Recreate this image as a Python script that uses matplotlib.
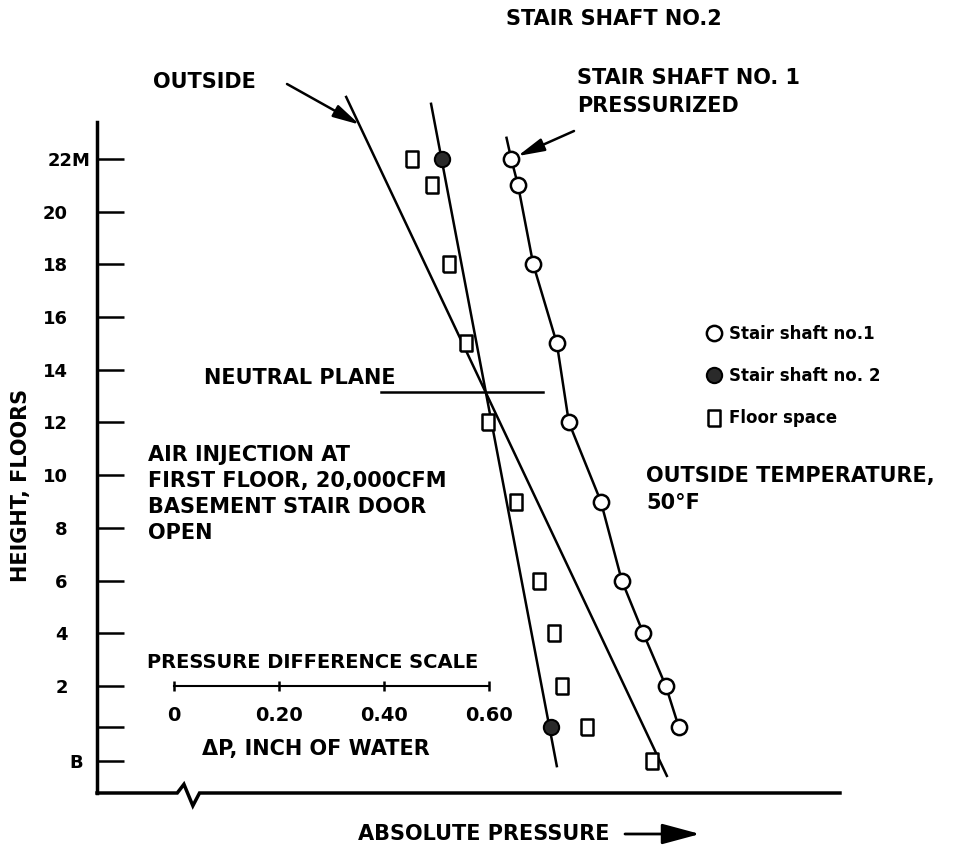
import matplotlib
matplotlib.use("Agg")
import matplotlib.pyplot as plt
import matplotlib.transforms as mtransforms
import numpy as np

W, H = 967, 858

plt.rcParams['font.family'] = ['DejaVu Sans']
plt.rcParams['font.weight'] = 'bold'

# floor numbers: 0 = basement (B), 1 = first floor
floor_ticks = [22, 20, 18, 16, 14, 12, 10, 8, 6, 4, 2, 1, 0]
floor_labels = ['22M', '20', '18', '16', '14', '12', '10', '8', '6', '4', '2', '', 'B']

# pressures read on the pressure difference scale (inch of water)
shaft1_floors = [22, 21, 18, 15, 12, 9, 6, 4, 2, 1]
shaft1_dp = [0.643, 0.656, 0.685, 0.730, 0.753, 0.814, 0.854, 0.895, 0.938, 0.963]

shaft2_floors = [22, 1]
shaft2_dp = [0.510, 0.718]

space_floors = [22, 21, 18, 15, 12, 9, 6, 4, 2, 1, 0]
space_dp = [0.453, 0.492, 0.525, 0.556, 0.598, 0.653, 0.696, 0.725, 0.739, 0.787, 0.911]

# straight lines as drawn (end points)
outside_floors = [24.35, -0.58]
outside_dp = [0.328, 0.940]
shaft2_fit_floors = [24.09, -0.21]
shaft2_fit_dp = [0.490, 0.730]
shaft1_top_floor = 22.8
shaft1_top_dp = 0.634

neutral_floor = 13.15
neutral_dp = [0.394, 0.704]

scale_ticks = [0, 0.2, 0.4, 0.6]
scale_labels = ['0', '0.20', '0.40', '0.60']

# the first floor and the basement are not spaced like the upper floors
floor_knots = [-20, 0, 1, 2, 60]
level_knots = [-20.83, -0.83, 0.43, 2, 60]


def to_level(f):
    return np.interp(f, floor_knots, level_knots)


def to_floor(v):
    return np.interp(v, level_knots, floor_knots)


def figtext(x, y, s, **kw):
    # x, y in pixels from the top left corner
    fig.text(x / W, 1 - y / H, s, **kw)


fig = plt.figure(figsize=(W / 100, H / 100), dpi=100)
ax = fig.add_axes([97 / W, 1 - 793 / H, (840 - 97) / W, (793 - 122) / H])
ax.set_yscale('function', functions=(to_level, to_floor))
ax.set_xlim(-0.1475, 1.2704)
ax.set_ylim(-1.23, 23.4)

for s in ['top', 'right', 'bottom']:
    ax.spines[s].set_visible(False)
ax.spines['left'].set_linewidth(2.5)
ax.set_xticks([])
ax.set_yticks(floor_ticks, floor_labels)
ax.tick_params(axis='y', direction='in', length=19.5, width=1.8, pad=21, labelsize=13)

# '22M' and 'B' sit further right than the other floor numbers
ticks = ax.yaxis.get_major_ticks()
for t, dx in [(ticks[0], 0.23), (ticks[-1], 0.15)]:
    t.label1.set_transform(t.label1.get_transform() +
                           mtransforms.ScaledTranslation(dx, 0, fig.dpi_scale_trans))

# x axis with a break
ax.plot([0, 0.108, 0.117, 0.129, 0.138, 1], [0, 0, 0.013, -0.019, 0, 0],
        transform=ax.transAxes, clip_on=False, color='black', lw=2.5,
        solid_joinstyle='miter')

line_kw = dict(color='black', lw=1.8, clip_on=False, zorder=2)
ax.plot(outside_dp, outside_floors, **line_kw)
ax.plot(shaft2_fit_dp, shaft2_fit_floors, **line_kw)
ax.plot([shaft1_top_dp] + shaft1_dp, [shaft1_top_floor] + shaft1_floors, **line_kw)
ax.plot(neutral_dp, [neutral_floor, neutral_floor], **line_kw)

tall_square = [(-0.8, -1), (0.8, -1), (0.8, 1), (-0.8, 1), (-0.8, -1)]
h1, = ax.plot(shaft1_dp, shaft1_floors, 'o', ms=11, mfc='white', mec='black',
              mew=1.8, zorder=4, clip_on=False, label='Stair shaft no.1')
h2, = ax.plot(shaft2_dp, shaft2_floors, 'o', ms=11, mfc='#2a2a2a', mec='black',
              mew=1.5, zorder=4, clip_on=False, label='Stair shaft no. 2')
h3, = ax.plot(space_dp, space_floors, marker=tall_square, ls='none', ms=11,
              mfc='white', mec='black', mew=1.8, zorder=4, clip_on=False,
              label='Floor space')

ax.legend(handles=[h1, h2, h3], loc='upper left', bbox_to_anchor=(706 / W, 1 - 325 / H),
          bbox_transform=fig.transFigure, frameon=False, fontsize=12,
          handlelength=0.9, handletextpad=0.5, labelspacing=1.45, borderpad=0,
          borderaxespad=0, numpoints=1)

# pressure difference scale, drawn at floor 2
ax.plot([scale_ticks[0], scale_ticks[-1]], [2, 2], color='black', lw=1.5)
ax.plot(scale_ticks, [2] * len(scale_ticks), '|', color='black', ms=7, mew=1.8)
for v, lab in zip(scale_ticks, scale_labels):
    ax.annotate(lab, xy=(v, 2), xytext=(0, -21), textcoords='offset points',
                ha='center', va='center', fontsize=14)

# arrows pointing at the lines
arrow_kw = dict(arrowstyle='-|>,head_length=0.9,head_width=0.22', color='black',
                lw=1.8, shrinkA=0, shrinkB=0, mutation_scale=18)
tip_f = 23.3
ax.annotate('', xy=(np.interp(tip_f, outside_floors[::-1], outside_dp[::-1]), tip_f),
            xytext=(287, H - 84), textcoords='figure pixels', arrowprops=arrow_kw)
tip_f = 23.55
ax.annotate('', xy=(np.interp(tip_f, shaft2_fit_floors[::-1], shaft2_fit_dp[::-1]), tip_f),
            xytext=(489, H - 24), textcoords='figure pixels', arrowprops=arrow_kw)
ax.annotate('', xy=(shaft1_dp[0], shaft1_floors[0]), xytext=(574, H - 131),
            textcoords='figure pixels',
            arrowprops=dict(arrow_kw, shrinkB=5))

cap = dict(fontsize=15, va='center')
figtext(153, 82, 'OUTSIDE', **cap)
figtext(506, 19, 'STAIR SHAFT NO.2', **cap)
figtext(577, 78, 'STAIR SHAFT NO. 1', **cap)
figtext(577, 106, 'PRESSURIZED', **cap)
figtext(204, 378, 'NEUTRAL PLANE', **cap)
for i, line in enumerate(['AIR INJECTION AT', 'FIRST FLOOR, 20,000CFM',
                          'BASEMENT STAIR DOOR', 'OPEN']):
    figtext(148, 455 + 26 * i, line, **cap)
figtext(646, 476, 'OUTSIDE TEMPERATURE,', **cap)
figtext(646, 503, '50°F', **cap)
figtext(147, 663, 'PRESSURE DIFFERENCE SCALE', fontsize=14, va='center')
figtext(316, 749, 'ΔP, INCH OF WATER', ha='center', fontsize=15, va='center')
figtext(484, 834, 'ABSOLUTE PRESSURE', ha='center', fontsize=15, va='center')
ax.annotate('', xy=(700, H - 834), xycoords='figure pixels', xytext=(625, H - 834),
            textcoords='figure pixels',
            arrowprops=dict(arrowstyle='-|>,head_length=1.3,head_width=0.35',
                            color='black', lw=2, shrinkA=0, shrinkB=0, mutation_scale=18))

ax.set_ylabel('HEIGHT, FLOORS', fontsize=15, fontweight='bold')
ax.yaxis.set_label_coords((31 - 97) / (840 - 97), (793 - 485) / (793 - 122))

fig.savefig('out.png', dpi=100)
